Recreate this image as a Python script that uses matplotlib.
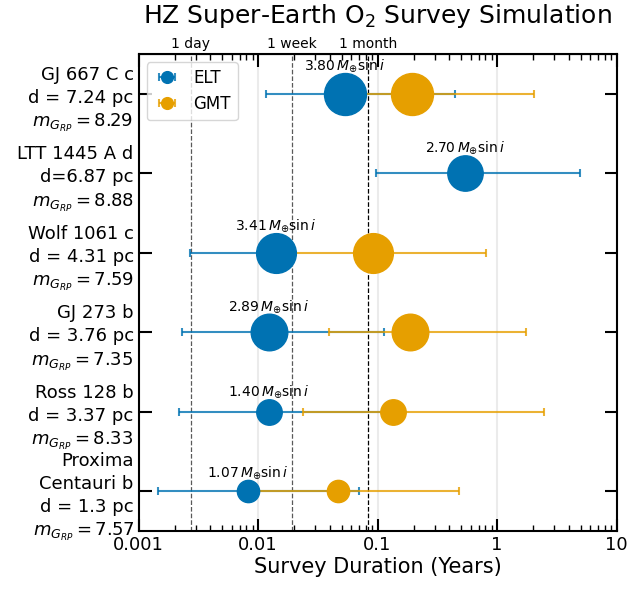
import numpy as np
import matplotlib
matplotlib.use('Agg')
import matplotlib.pyplot as plt
from matplotlib.colors import to_rgba

#planet labels (top to bottom)
names = ['GJ 667 C c\nd = 7.24 pc\n$m_{G_{RP}} = 8.29$',
         'LTT 1445 A d\nd=6.87 pc\n$m_{G_{RP}} = 8.88$',
         'Wolf 1061 c\nd = 4.31 pc\n$m_{G_{RP}} = 7.59$',
         'GJ 273 b\nd = 3.76 pc\n$m_{G_{RP}} = 7.35$',
         'Ross 128 b\nd = 3.37 pc\n$m_{G_{RP}} = 8.33$',
         'Proxima\nCentauri b\nd = 1.3 pc\n$m_{G_{RP}} = 7.57$']
masses = [3.80, 2.70, 3.41, 2.89, 1.40, 1.07]

#survey durations in years (median, lower, upper)
elt_t = [0.053, 0.537, 0.0141, 0.01225, 0.01225, 0.00824]
elt_lo = [0.0116, 0.098, 0.00272, 0.00229, 0.00217, 0.00146]
elt_hi = [0.441, 4.96, 0.0150, 0.114, 0.125, 0.070]

gmt_t = [0.194, np.nan, 0.0923, 0.187, 0.1355, 0.0471]
gmt_lo = [0.055, np.nan, 0.0150, 0.0393, 0.0236, 0.0090]
gmt_hi = [2.05, np.nan, 0.815, 1.73, 2.45, 0.482]

#reference durations
ref_times = [1/365., 7/365., 1/12.]
ref_labels = ['1 day', '1 week', '1 month']
ref_colors = ['0.35', '0.35', 'black']

elt_col = '#0072B2'
gmt_col = '#E69F00'

fig = plt.figure(figsize=(6.34, 5.9), dpi=100)
ax = fig.add_axes([0.2185, 0.1, 0.754, 0.8085])

ypos = np.arange(len(names))[::-1]

for i in range(len(names)):
    ms = 15.5*np.sqrt(masses[i])
    ax.errorbar(elt_t[i], ypos[i],
                xerr=[[elt_t[i]-elt_lo[i]], [elt_hi[i]-elt_t[i]]],
                fmt='o', color=elt_col, ecolor=to_rgba(elt_col, 0.8),
                ms=ms, elinewidth=1.5, capsize=3, capthick=1.5,
                label='ELT' if i == 0 else None)
    if not np.isnan(gmt_t[i]):
        ax.errorbar(gmt_t[i], ypos[i],
                    xerr=[[gmt_t[i]-gmt_lo[i]], [gmt_hi[i]-gmt_t[i]]],
                    fmt='o', color=gmt_col, ecolor=to_rgba(gmt_col, 0.8),
                    ms=ms, elinewidth=1.5, capsize=3, capthick=1.5,
                    label='GMT' if i == 0 else None)
    #mass label above the ELT point
    r_px = ms*100/72./2
    ax.annotate(r'%.2f$\,M_{\oplus}\sin i$' % masses[i], (elt_t[i], ypos[i]),
                xytext=(0, (r_px+7.5)*72/100.), textcoords='offset points',
                ha='center', va='center', fontsize=10)

for t, c in zip(ref_times, ref_colors):
    ax.axvline(t, color=c, ls='--', lw=0.9, zorder=1)

ax.set_xscale('log')
ax.set_xlim(0.001, 10)
ax.set_ylim(-0.5, 5.5)
ax.set_yticks(ypos)
ax.set_yticklabels(names, fontsize=13, linespacing=1.35)
ax.set_xticks([0.001, 0.01, 0.1, 1, 10])
ax.set_xticklabels(['0.001', '0.01', '0.1', '1', '10'], fontsize=13)
ax.set_xlabel('Survey Duration (Years)', fontsize=15, labelpad=2)
ax.grid(axis='x', which='major', color='0.92', lw=1.5, zorder=0)
ax.set_axisbelow(True)
ax.tick_params(which='both', direction='in', top=True, right=True)
ax.tick_params(which='major', length=9, width=1.5)
ax.tick_params(which='minor', length=4, width=1)
for s in ax.spines.values():
    s.set_linewidth(1.5)

sec = ax.secondary_xaxis('top')
sec.set_xticks(ref_times)
sec.set_xticklabels(ref_labels, fontsize=10)
sec.tick_params(length=0, pad=2)
sec.xaxis.set_minor_locator(matplotlib.ticker.NullLocator())

ax.set_title('HZ Super-Earth O$_2$ Survey Simulation', fontsize=18, pad=22)
ax.legend(loc='upper left', markerscale=0.28, fontsize=12, handlelength=1.6)

fig.savefig('out.png', dpi=100)
